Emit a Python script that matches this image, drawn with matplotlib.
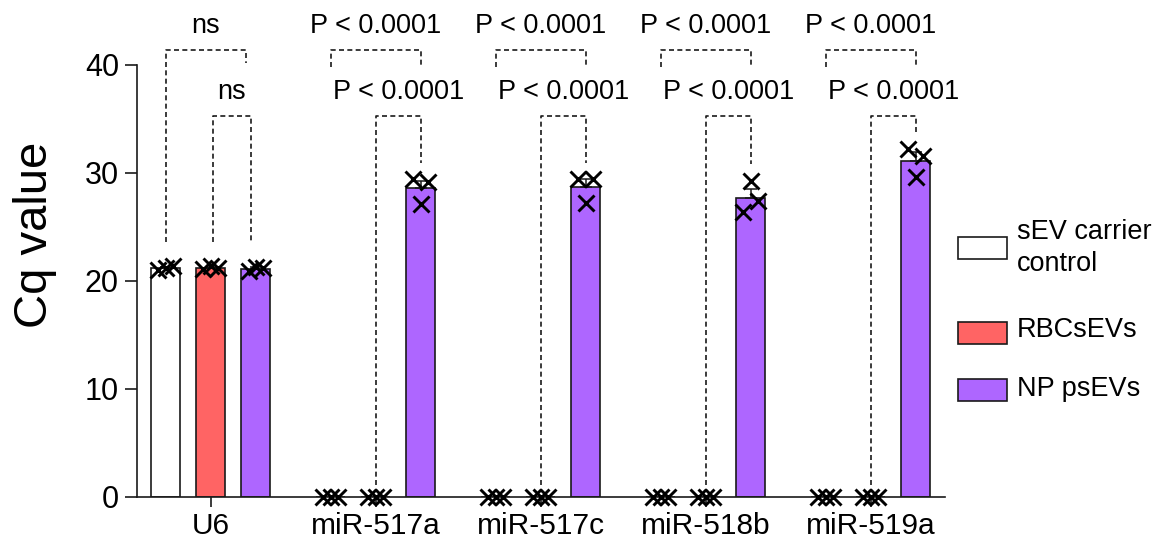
import numpy as np
import matplotlib.pyplot as plt
from matplotlib.patches import Rectangle

plt.rcParams['font.family'] = ['Liberation Sans', 'DejaVu Sans']

# ---- data -------------------------------------------------------------
targets = ['U6', 'miR-517a', 'miR-517c', 'miR-518b', 'miR-519a']
groups = ['sEV carrier\ncontrol', 'RBCsEVs', 'NP psEVs']
colors = ['#FFFFFF', '#FF6464', '#AE66FF']

# triplicate Cq values per target (0 = not detected)
cq_control = [[21.0, 21.2, 21.4], [0, 0, 0], [0, 0, 0], [0, 0, 0], [0, 0, 0]]
cq_rbc = [[21.1, 21.4, 21.2], [0, 0, 0], [0, 0, 0], [0, 0, 0], [0, 0, 0]]
cq_np = [[20.9, 21.3, 21.2], [29.4, 27.1, 29.2], [29.4, 27.2, 29.4],
         [26.4, 29.3, 27.4], [32.2, 29.6, 31.6]]

outer_labels = ['ns', 'P < 0.0001', 'P < 0.0001', 'P < 0.0001', 'P < 0.0001']
inner_labels = ['ns', 'P < 0.0001', 'P < 0.0001', 'P < 0.0001', 'P < 0.0001']

# ---- layout -------------------------------------------------------------
W, H = 1154, 544
fig = plt.figure(figsize=(W / 100, H / 100), dpi=100)
ax = fig.add_axes([137 / W, 1 - 497 / H, (945 - 137) / W, (497 - 65) / H])

slot = 0.273
width = 0.176
jitter = np.array([-0.045, 0.0, 0.042])
x = np.arange(len(targets))
series = [cq_control, cq_rbc, cq_np]
edge = '#1a1a1a'

for gi, (vals, col) in enumerate(zip(series, colors)):
    vals = np.array(vals, dtype=float)
    means = vals.mean(axis=1)
    sem = vals.std(axis=1, ddof=1) / np.sqrt(vals.shape[1])
    xpos = x + (gi - 1) * slot
    ax.bar(xpos, means, width=width, color=col, edgecolor=edge,
           linewidth=1.2, zorder=2)
    for xi, m, s in zip(xpos, means, sem):
        if m > 0:
            ax.errorbar(xi, m, yerr=[[0], [s]], fmt='none', ecolor=edge,
                        elinewidth=1.1, capsize=4, capthick=1.1, zorder=3)
    for xi, row in zip(xpos, vals):
        ax.plot(xi + jitter, row, linestyle='none', marker='x', color='black',
                markersize=11, markeredgewidth=2.1, zorder=4, clip_on=False)

ax.set_xlim(-0.448, 4.45)
ax.set_ylim(0, 40)
ax.set_yticks([0, 10, 20, 30, 40])
ax.set_xticks(x)
ax.set_xticklabels(targets)
for s in ['top', 'right']:
    ax.spines[s].set_visible(False)
for s in ['left', 'bottom']:
    ax.spines[s].set_linewidth(1.2)
    ax.spines[s].set_color(edge)
ax.tick_params(axis='y', length=9, width=1.2, pad=4, labelsize=22, color=edge)
ax.tick_params(axis='x', length=7, width=1.2, pad=4, labelsize=21.5, color=edge)

fig.text(35 / W, 1 - 235 / H, 'Cq value', rotation=90, ha='center',
         va='center', fontsize=34)

# ---- significance brackets ------------------------------------------------
dash = dict(color=edge, linewidth=1.2, linestyle=(0, (3, 2)),
            clip_on=False, zorder=5)


def bracket(x1, x2, top, y1, y2, text):
    ax.plot([x1, x1, x2, x2], [y1, top, top, y2], **dash)
    ax.text((x1 + x2) / 2, top + 2.2, text, ha='center', va='center',
            fontsize=19.5, clip_on=False)


outer_top, inner_top = 41.4, 35.3
for i, t in enumerate(targets):
    np_max = max(cq_np[i])
    if i == 0:
        base = max(max(cq_control[i]), max(cq_rbc[i]), np_max) + 2.2
        bracket(x[i] - slot, x[i] + slot - 0.06, outer_top, base, 40.2,
                outer_labels[i])
        bracket(x[i] + 0.01, x[i] + slot - 0.03, inner_top, base, base,
                inner_labels[i])
    else:
        bracket(x[i] - slot, x[i] + slot, outer_top, 39.8, 39.8,
                outer_labels[i])
        bracket(x[i], x[i] + slot, inner_top, 1.1, np_max + 1.5,
                inner_labels[i])

# ---- legend ---------------------------------------------------------------
legend_rows = [(248, 248), (333, 330), (390, 389)]
for (patch_y, text_y), lab, col in zip(legend_rows, groups, colors):
    fig.add_artist(Rectangle((958 / W, 1 - (patch_y + 11) / H), 49 / W, 22 / H,
                             transform=fig.transFigure, facecolor=col,
                             edgecolor=edge, linewidth=1.2))
    fig.text(1017 / W, 1 - text_y / H, lab, ha='left', va='center',
             fontsize=19.5, linespacing=1.3)

fig.savefig('out.png', dpi=100)
